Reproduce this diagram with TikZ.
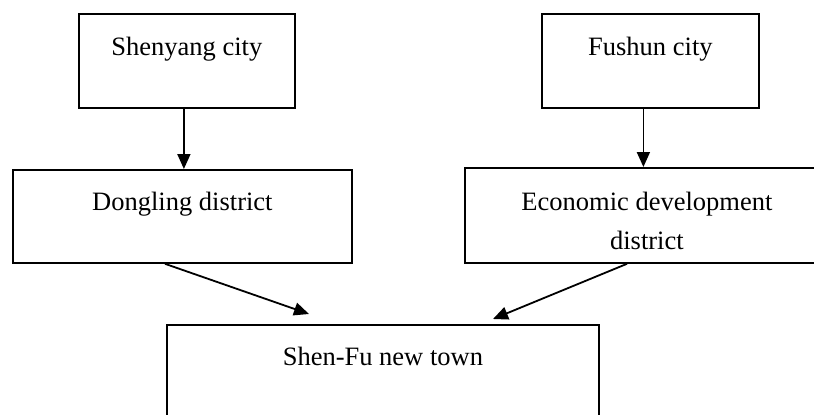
\documentclass[tikz,border=0pt]{standalone}
\usepackage{fontspec}
\setmainfont{Liberation Serif}
\usetikzlibrary{arrows.meta,calc}
\begin{document}
\begin{tikzpicture}[x=1pt,y=-1pt,
  boxshape/.style={draw,line width=1.8pt,rectangle,anchor=north west,inner sep=0pt},
  label/.style={anchor=base,inner sep=0pt,font=\fontsize{26.5}{39}\selectfont},
  arr/.style={line width=1.8pt,-{Triangle[length=15pt,width=13pt]}}]
\useasboundingbox (0,0) rectangle (814,415);
\clip (0,0) rectangle (814,415);
\node[boxshape,minimum width=216pt,minimum height=94pt] (sheny) at (78,13) {};
\node[boxshape,minimum width=217pt,minimum height=94pt] (fush) at (541,13) {};
\node[boxshape,minimum width=339pt,minimum height=93pt] (dong) at (12,169) {};
\node[boxshape,minimum width=364pt,minimum height=95pt] (econ) at (464,167) {};
\node[boxshape,minimum width=432pt,minimum height=130pt] (shenfu) at (166,324) {};
\node[label] (shenytxt) at ($(sheny.north)+(0,42)$) {Shenyang city};
\node[label] (fushtxt) at ($(fush.north)+(0,42)$) {Fushun city};
\node[label] (dongtxt) at ($(dong.north)+(0,41)$) {Dongling district};
\node[label] (econtxt) at ($(econ.north)+(0,43)$) {\setlength{\tabcolsep}{0pt}\begin{tabular}[t]{c}Economic development\\district\end{tabular}};
\node[label] (shenfutxt) at ($(shenfu.north)+(0,41)$) {Shen-Fu new town};
\coordinate (s1) at ($(sheny.south)+(-3,0)$);
\coordinate (f1) at ($(fush.south)+(-7,0)$);
\draw[arr] (s1) -- (s1 |- dong.north);
\draw[arr] (f1) -- (f1 |- econ.north);
\draw[arr] ($(dong.south west)+(153,0)$) -- ($(shenfu.north west)+(143,-10)$);
\draw[arr] ($(econ.south west)+(163,0)$) -- ($(shenfu.north west)+(327,-5)$);
\end{tikzpicture}
\end{document}
